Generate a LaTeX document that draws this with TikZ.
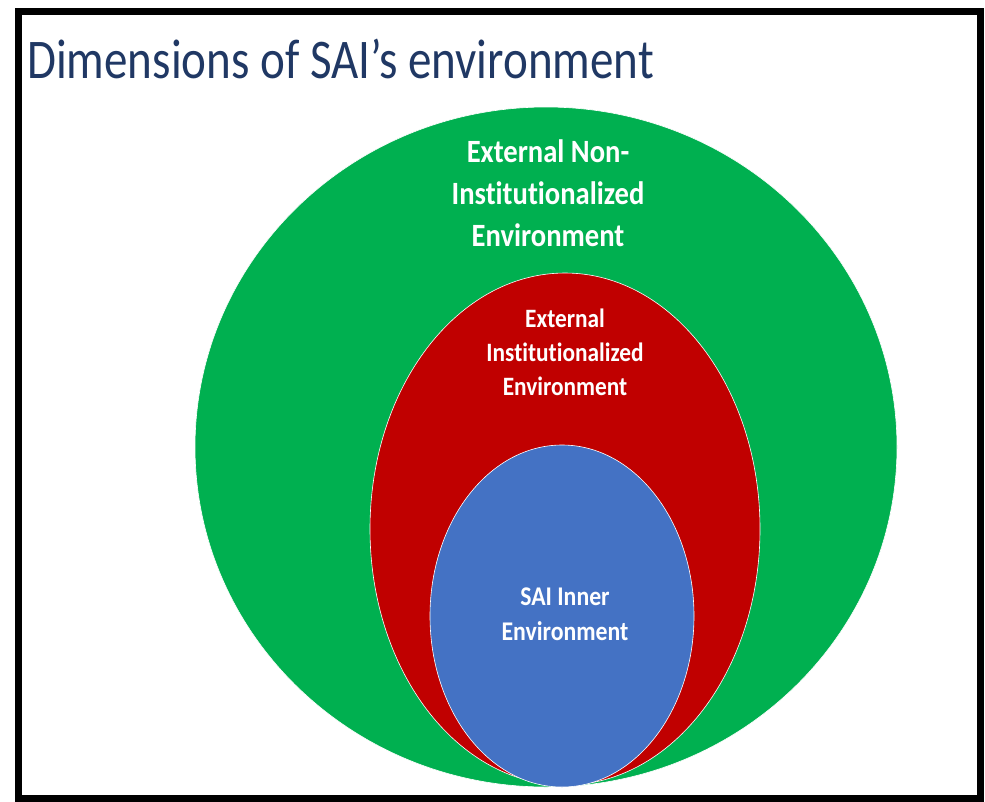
\documentclass[tikz,border=0pt]{standalone}
\usepackage{fontspec}
\setmainfont{Carlito}
\newfontfamily\titlefont[FakeStretch=0.84]{Carlito}
\newfontfamily\labelfont[FakeStretch=0.88, Ligatures=NoCommon]{Carlito}
\usetikzlibrary{shapes.geometric}
\definecolor{envgreen}{HTML}{00B050}
\definecolor{envred}{HTML}{C00000}
\definecolor{envblue}{HTML}{4472C4}
\definecolor{titleblue}{HTML}{203864}
\begin{document}
\begin{tikzpicture}[x=1pt, y=-1pt,
	layer/.style={ellipse, inner sep=0pt, draw=white, line width=0.6pt},
	label/.style={text=white, align=center}]
		\useasboundingbox (0,0) rectangle (985,801);
		\draw[line width=7pt] (18,11) rectangle (980,798);
		\node[anchor=base west, text=titleblue, font=\titlefont\fontsize{56}{60}\selectfont, inner sep=0pt] (Title) at (27,78) {Dimensions of SAI’s environment};
		% Layers
		\node[layer, fill=envgreen, minimum width=702pt, minimum height=680pt] (NonInst) at (546,447) {};
		\node[layer, fill=envred, minimum width=390pt, minimum height=512pt] (Inst) at (565,529) {};
		\node[layer, fill=envblue, minimum width=264pt, minimum height=342pt] (Inner) at (562,616) {};
		% Labels
		\node[label, font=\labelfont\bfseries\fontsize{32.5}{42}\selectfont] (NonInst text) at (548,193) {External Non-\\Institutionalized\\Environment};
		\node[label, font=\labelfont\bfseries\fontsize{26.5}{34}\selectfont] (Inst text) at (565,352) {External\\Institutionalized\\Environment};
		\node[label, font=\labelfont\bfseries\fontsize{27}{35}\selectfont] (Inner text) at (565,614) {SAI Inner\\Environment};
	\end{tikzpicture}
\end{document}
